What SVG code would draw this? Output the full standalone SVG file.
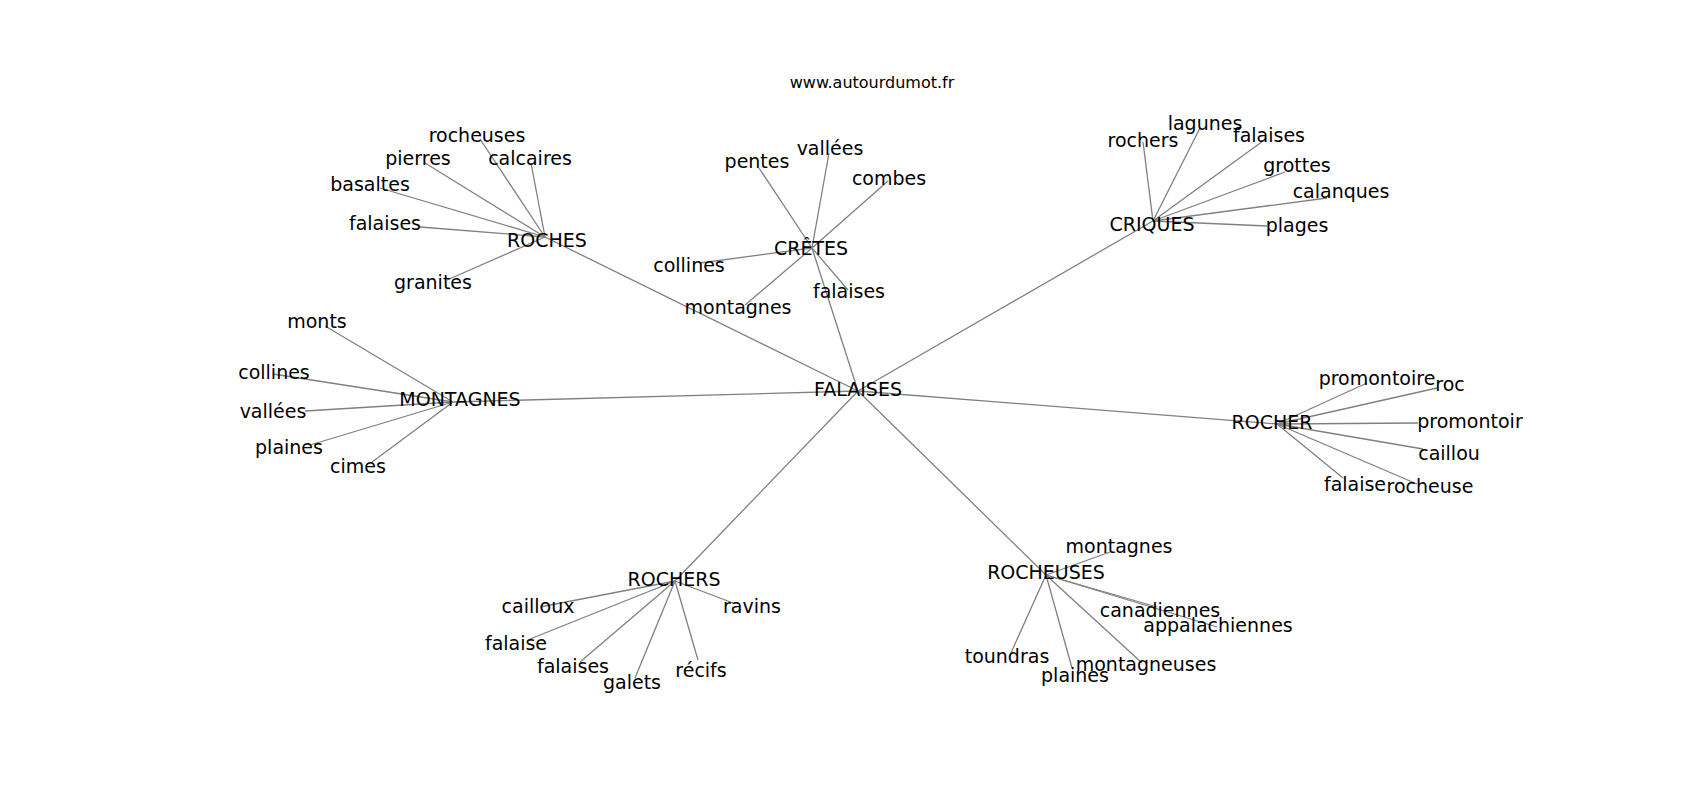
<svg xmlns="http://www.w3.org/2000/svg" width="1700" height="800" viewBox="0 0 1700 800">
<style>
text { font-family: "DejaVu Sans", "Liberation Sans", sans-serif; font-size: 19px; fill: #000; text-anchor: middle; }
text.title { font-size: 16px; }
#edges line { stroke: #808080; stroke-width: 1.3; }
</style>
<rect x="0" y="0" width="1700" height="800" fill="#ffffff"/>
<text class="title" x="872" y="88">www.autourdumot.fr</text>
<g id="edges">
<line x1="858" y1="391" x2="545" y2="237"/>
<line x1="858" y1="391" x2="812" y2="248"/>
<line x1="858" y1="391" x2="1153" y2="221"/>
<line x1="858" y1="391" x2="1277" y2="424"/>
<line x1="858" y1="391" x2="453" y2="402"/>
<line x1="858" y1="391" x2="675" y2="581"/>
<line x1="858" y1="391" x2="1046" y2="575"/>
<line x1="545" y1="237" x2="480" y2="139"/>
<line x1="545" y1="237" x2="425" y2="163"/>
<line x1="545" y1="237" x2="531" y2="163"/>
<line x1="545" y1="237" x2="380" y2="188"/>
<line x1="545" y1="237" x2="420" y2="227"/>
<line x1="545" y1="237" x2="447" y2="280"/>
<line x1="812" y1="248" x2="759" y2="168"/>
<line x1="812" y1="248" x2="829" y2="153"/>
<line x1="812" y1="248" x2="888" y2="181"/>
<line x1="812" y1="248" x2="700" y2="263"/>
<line x1="812" y1="248" x2="745" y2="305"/>
<line x1="812" y1="248" x2="848" y2="290"/>
<line x1="1153" y1="221" x2="1143" y2="142"/>
<line x1="1153" y1="221" x2="1200" y2="128"/>
<line x1="1153" y1="221" x2="1263" y2="141"/>
<line x1="1153" y1="221" x2="1285" y2="172"/>
<line x1="1153" y1="221" x2="1327" y2="198"/>
<line x1="1153" y1="221" x2="1267" y2="226"/>
<line x1="1277" y1="424" x2="1367" y2="383"/>
<line x1="1277" y1="424" x2="1437" y2="388"/>
<line x1="1277" y1="424" x2="1418" y2="423"/>
<line x1="1277" y1="424" x2="1423" y2="449"/>
<line x1="1277" y1="424" x2="1343" y2="478"/>
<line x1="1277" y1="424" x2="1417" y2="484"/>
<line x1="453" y1="402" x2="325" y2="326"/>
<line x1="453" y1="402" x2="273" y2="374"/>
<line x1="453" y1="402" x2="305" y2="411"/>
<line x1="453" y1="402" x2="310" y2="445"/>
<line x1="453" y1="402" x2="372" y2="462"/>
<line x1="675" y1="581" x2="540" y2="607"/>
<line x1="675" y1="581" x2="530" y2="639"/>
<line x1="675" y1="581" x2="580" y2="662"/>
<line x1="675" y1="581" x2="635" y2="678"/>
<line x1="675" y1="581" x2="698" y2="660"/>
<line x1="675" y1="581" x2="733" y2="603"/>
<line x1="1046" y1="575" x2="1110" y2="552"/>
<line x1="1046" y1="575" x2="1157" y2="607"/>
<line x1="1046" y1="575" x2="1217" y2="627"/>
<line x1="1046" y1="575" x2="1010" y2="655"/>
<line x1="1046" y1="575" x2="1072" y2="668"/>
<line x1="1046" y1="575" x2="1142" y2="663"/>
</g>
<g id="n-falaises-hub"><text x="858" y="396">FALAISES</text></g>
<g id="n-roches"><text x="547" y="247">ROCHES</text></g>
<g id="n-roches-rocheuses"><text x="477" y="142">rocheuses</text></g>
<g id="n-roches-pierres"><text x="418" y="165">pierres</text></g>
<g id="n-roches-calcaires"><text x="530" y="165">calcaires</text></g>
<g id="n-roches-basaltes"><text x="370" y="191">basaltes</text></g>
<g id="n-roches-falaises"><text x="385" y="230">falaises</text></g>
<g id="n-roches-granites"><text x="433" y="289">granites</text></g>
<g id="n-cretes"><text x="811" y="255">CRÊTES</text></g>
<g id="n-cretes-pentes"><text x="757" y="168">pentes</text></g>
<g id="n-cretes-vallees"><text x="830" y="155">vallées</text></g>
<g id="n-cretes-combes"><text x="889" y="185">combes</text></g>
<g id="n-cretes-collines"><text x="689" y="272">collines</text></g>
<g id="n-cretes-montagnes"><text x="738" y="314">montagnes</text></g>
<g id="n-cretes-falaises"><text x="849" y="298">falaises</text></g>
<g id="n-criques"><text x="1152" y="231">CRIQUES</text></g>
<g id="n-criques-rochers"><text x="1143" y="147">rochers</text></g>
<g id="n-criques-lagunes"><text x="1205" y="130">lagunes</text></g>
<g id="n-criques-falaises"><text x="1269" y="142">falaises</text></g>
<g id="n-criques-grottes"><text x="1297" y="172">grottes</text></g>
<g id="n-criques-calanques"><text x="1341" y="198">calanques</text></g>
<g id="n-criques-plages"><text x="1297" y="232">plages</text></g>
<g id="n-rocher"><text x="1272" y="429">ROCHER</text></g>
<g id="n-rocher-promontoire"><text x="1377" y="385">promontoire</text></g>
<g id="n-rocher-roc"><text x="1450" y="391">roc</text></g>
<g id="n-rocher-promontoir"><text x="1470" y="428">promontoir</text></g>
<g id="n-rocher-caillou"><text x="1449" y="460">caillou</text></g>
<g id="n-rocher-falaise"><text x="1355" y="491">falaise</text></g>
<g id="n-rocher-rocheuse"><text x="1430" y="493">rocheuse</text></g>
<g id="n-montagnes"><text x="460" y="406">MONTAGNES</text></g>
<g id="n-montagnes-monts"><text x="317" y="328">monts</text></g>
<g id="n-montagnes-collines"><text x="274" y="379">collines</text></g>
<g id="n-montagnes-vallees"><text x="273" y="418">vallées</text></g>
<g id="n-montagnes-plaines"><text x="289" y="454">plaines</text></g>
<g id="n-montagnes-cimes"><text x="358" y="473">cimes</text></g>
<g id="n-rochers"><text x="674" y="586">ROCHERS</text></g>
<g id="n-rochers-cailloux"><text x="538" y="613">cailloux</text></g>
<g id="n-rochers-falaise"><text x="516" y="650">falaise</text></g>
<g id="n-rochers-falaises"><text x="573" y="673">falaises</text></g>
<g id="n-rochers-galets"><text x="632" y="689">galets</text></g>
<g id="n-rochers-recifs"><text x="701" y="677">récifs</text></g>
<g id="n-rochers-ravins"><text x="752" y="613">ravins</text></g>
<g id="n-rocheuses"><text x="1046" y="579">ROCHEUSES</text></g>
<g id="n-rocheuses-montagnes"><text x="1119" y="553">montagnes</text></g>
<g id="n-rocheuses-canadiennes"><text x="1160" y="617">canadiennes</text></g>
<g id="n-rocheuses-appalachiennes"><text x="1218" y="632">appalachiennes</text></g>
<g id="n-rocheuses-toundras"><text x="1007" y="663">toundras</text></g>
<g id="n-rocheuses-plaines"><text x="1075" y="682">plaines</text></g>
<g id="n-rocheuses-montagneuses"><text x="1146" y="671">montagneuses</text></g>
</svg>
